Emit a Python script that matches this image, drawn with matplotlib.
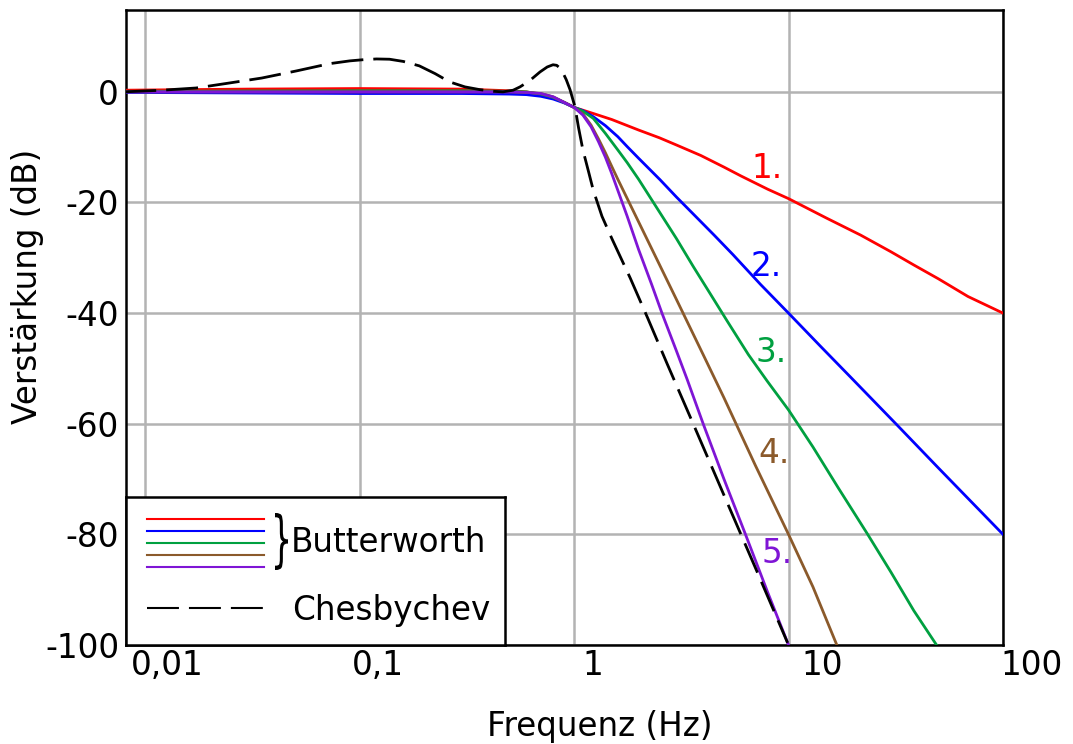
import matplotlib
matplotlib.use("Agg")
import matplotlib.pyplot as plt
import matplotlib.transforms as mtransforms
from matplotlib.textpath import TextPath
from matplotlib.patches import PathPatch
from matplotlib.font_manager import FontProperties

plt.rcParams['font.family'] = ['DejaVu Sans']
plt.rcParams['lines.scale_dashes'] = False

# values: frequency in Hz, gain in dB
bw1_f = [0.008, 0.03, 0.1, 0.3, 0.5, 0.6, 0.7, 0.8, 0.9, 1.0, 1.25, 1.5, 2.0, 2.5, 3.0, 3.9, 5.0, 6.0, 8.0, 10,
         15, 21.7, 30, 38.4, 50, 68.7, 100]
bw1_db = [0.3, 0.5, 0.6, 0.5, 0.2, 0.0, -0.5, -1.1, -1.9, -2.8, -4.0, -5.0, -6.9, -8.3, -9.6, -11.5, -13.6, -15.2,
          -17.6, -19.3, -22.8, -25.9, -28.9, -31.3, -33.8, -37.0, -40.0]

bw2_f = [0.008, 0.1, 0.3, 0.5, 0.6, 0.7, 0.8, 0.9, 1.0, 1.1, 1.23, 1.4, 1.6, 1.77, 2.0, 2.52, 3.0, 3.6, 4.5, 5.5,
         7.4, 10, 14.1, 19.5, 32.2, 50, 100]
bw2_db = [-0.1, -0.3, -0.3, -0.4, -0.5, -0.8, -1.3, -2.0, -2.8, -3.4, -4.5, -6.1, -8.1, -9.9, -12.0, -15.9, -19.0,
          -22.1, -25.9, -29.4, -34.8, -40.0, -46.0, -51.6, -60.3, -68.0, -80.0]

bw3_f = [0.008, 0.1, 0.3, 0.5, 0.6, 0.7, 0.8, 0.9, 1.0, 1.1, 1.23, 1.4, 1.6, 1.77, 2.0, 2.52, 3.0, 3.6, 4.3, 5.19,
         6.5, 7.96, 10, 13, 17, 23.4, 30, 38.4, 49]
bw3_db = [0.1, 0.2, 0.2, 0.1, 0.0, -0.4, -1.0, -1.9, -2.8, -3.5, -4.8, -7.5, -10.5, -12.8, -15.8, -21.9, -26.5,
          -31.6, -36.4, -41.5, -47.5, -52.3, -57.5, -64.2, -71.5, -80.0, -86.8, -93.8, -100.0]

bw4_f = [0.008, 0.1, 0.3, 0.5, 0.6, 0.7, 0.8, 0.9, 1.0, 1.1, 1.2, 1.3, 1.4, 1.5, 1.6, 2.0, 2.5, 3.0, 4.0, 5.0,
         7.0, 10, 13, 16.8]
bw4_db = [0.0, 0.0, 0.0, 0.0, -0.1, -0.3, -0.9, -1.9, -2.8, -4.0, -6.0, -8.5, -11.0, -13.5, -15.8, -23.5, -31.2,
          -37.5, -47.5, -55.3, -67.5, -80.0, -89.5, -100.0]

bw5_f = [0.008, 0.1, 0.3, 0.5, 0.6, 0.7, 0.8, 0.9, 1.0, 1.1, 1.2, 1.3, 1.4, 1.5, 1.6, 1.77, 2.0, 2.3, 2.57, 3.0,
         3.37, 4.0, 5.0, 6.3, 8.0, 10]
bw5_db = [0.0, 0.0, 0.0, 0.0, -0.1, -0.3, -0.9, -1.9, -2.8, -4.2, -6.3, -9.0, -11.8, -14.8, -17.8, -22.5, -28.5,
          -34.8, -40.0, -46.8, -52.0, -60.0, -70.0, -80.0, -90.5, -100.0]

cheb_f = [0.008, 0.012, 0.0173, 0.0247, 0.035, 0.051, 0.0725, 0.09, 0.103, 0.12, 0.138, 0.16, 0.19, 0.225,
          0.263, 0.31, 0.364, 0.42, 0.466, 0.52, 0.56, 0.62, 0.694, 0.75, 0.798, 0.83, 0.86, 0.889, 0.92,
          0.958, 1.01, 1.05, 1.1, 1.17, 1.23, 1.35, 1.5, 1.83, 2.2, 2.72, 3.63, 5.0, 7.0, 9.9]
cheb_db = [0.0, 0.3, 0.7, 1.6, 2.5, 3.8, 5.1, 5.6, 5.8, 5.95, 5.9, 5.5, 4.7, 3.3,
           1.8, 0.9, 0.4, 0.1, 0.0, 0.3, 0.9, 2.0, 3.6, 4.5, 4.9, 4.8, 4.3, 3.4, 2.2,
           0.4, -2.7, -6.5, -10.5, -14.5, -17.8, -22.5, -26.5, -33.7, -40.8, -49.2, -60.4, -72.9, -86.0, -99.6]

orders = ['1.', '2.', '3.', '4.', '5.']
colors = ['#ff0000', '#0000ff', '#00a040', '#8b5a2b', '#7f15d5']
label_f = [6.69, 6.69, 6.98, 7.21, 7.45]
label_db = [-15.6, -33.3, -48.8, -67.1, -85.2]

xticks = [0.01, 0.1, 1, 10, 100]
xticklabels = ['0,01', '0,1', '1', '10', '100']
yticks = [0, -20, -40, -60, -80, -100]

fs = 23.5
fig = plt.figure(figsize=(10.73, 7.44), dpi=100)
ax = fig.add_axes([126/1073, 1 - 645/744, 877/1073, 635/744])

curves = [(bw1_f, bw1_db), (bw2_f, bw2_db), (bw3_f, bw3_db), (bw4_f, bw4_db), (bw5_f, bw5_db)]
for (f, db), c in zip(curves, colors):
    ax.plot(f, db, color=c, lw=2.0, zorder=3, solid_joinstyle='round')
ax.plot(cheb_f, cheb_db, color='black', lw=2.0, dashes=(23, 7.2), zorder=4)

for t, c, x, y in zip(orders, colors, label_f, label_db):
    ax.text(x, y, t, color=c, fontsize=fs, ha='left', va='baseline')

ax.set_xscale('log')
ax.set_xlim(0.00815, 100)
ax.set_ylim(-100, 14.8)
ax.set_xticks(xticks)
ax.set_xticklabels(xticklabels)
ax.minorticks_off()
ax.set_yticks(yticks)
ax.set_yticklabels([str(v) for v in yticks])
ax.tick_params(length=0, labelsize=fs)
ax.tick_params(axis='x', pad=3)
ax.tick_params(axis='y', pad=5)
ax.grid(True, color='#b3b3b3', lw=1.8)
ax.set_axisbelow(True)
for s in ax.spines.values():
    s.set_linewidth(1.8)

# tick labels in the original sit a little to the right of their grid lines
for lab, dx in zip(ax.get_xticklabels(), [22, 18.5, 19, 33.5, 29]):
    lab.set_transform(lab.get_transform() + mtransforms.ScaledTranslation(dx / 100, 0, fig.dpi_scale_trans))

ax.set_xlabel('Frequenz (Hz)', fontsize=fs)
ax.set_ylabel('Verstärkung (dB)', fontsize=fs)
ax.xaxis.set_label_coords(0.54, -0.102)
ax.yaxis.set_label_coords(-0.094, 0.565)

# hand drawn legend box in the lower left corner (coords in pixels of the box)
lax = fig.add_axes([126/1073, 1 - 645/744, 379/1073, 148/744])
lax.set_xlim(0, 379)
lax.set_ylim(148, 0)
lax.set_xticks([])
lax.set_yticks([])
for s in lax.spines.values():
    s.set_linewidth(1.8)
for i, c in enumerate(colors):
    lax.plot([21, 138], [22 + 12 * i] * 2, color=c, lw=1.5)
lax.plot([21, 138], [111, 111], color='black', lw=1.5, dashes=(23, 7.2))

# tall thin curly brace, stretched from the glyph outline
tp = TextPath((0, 0), '}', size=40, prop=FontProperties(family='DejaVu Sans'))
ext = tp.get_extents()
brace_tr = (mtransforms.Affine2D().translate(-ext.x0, -ext.y0)
            .scale(13 / ext.width, -57 / ext.height).translate(149, 73))
lax.add_patch(PathPatch(brace_tr.transform_path(tp), facecolor='black', edgecolor='none'))

lax.text(165, 55, 'Butterworth', fontsize=fs, ha='left', va='baseline')
lax.text(166, 123, 'Chesbychev', fontsize=fs, ha='left', va='baseline')

fig.savefig('out.png', dpi=100)
